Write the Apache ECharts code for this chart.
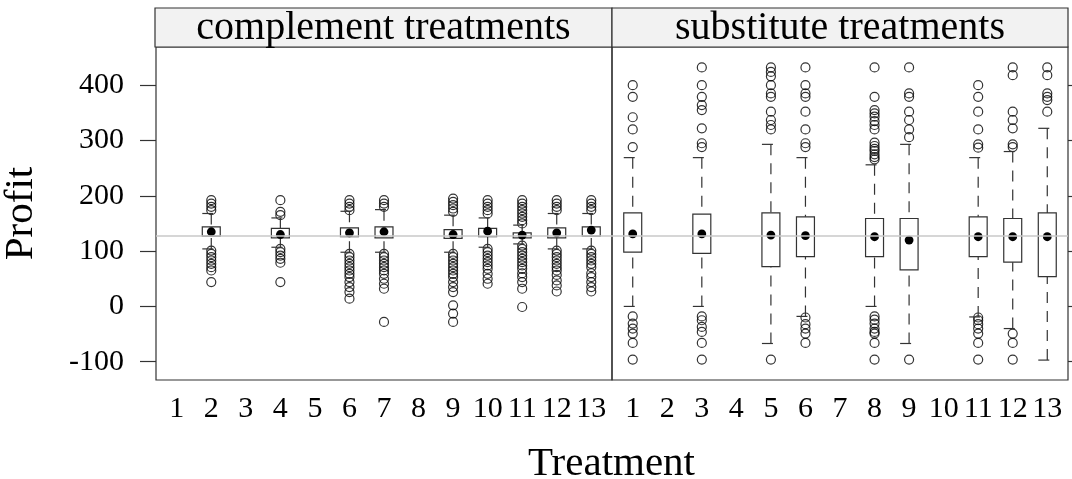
<!DOCTYPE html>
<html>
<head>
<meta charset="utf-8">
<script src="https://cdn.jsdelivr.net/npm/echarts@6/dist/echarts.min.js"></script>
<style>
html, body { margin: 0; padding: 0; background: #fff; }
#chart-container { width: 1072px; height: 479px; }
</style>
</head>
<body>
<div id="chart-container"></div>
<script>
var treatments = ['1', '2', '3', '4', '5', '6', '7', '8', '9', '10', '11', '12', '13'];
var panels = ['complement treatments', 'substitute treatments'];
var yTicks = [-100, 0, 100, 200, 300, 400];
var refLine = 127;

// [treatment, lower whisker, q1, median, q3, upper whisker]
var complementBoxes = [
  [2, 104, 127, 135, 144, 168],
  [4, 107, 124, 130, 141, 160],
  [6, 98, 126, 133, 142, 172],
  [7, 98, 124, 135, 144, 175],
  [9, 98, 123, 130, 139, 165],
  [10, 107, 126, 136, 141, 160],
  [11, 113, 124, 129, 133, 147],
  [12, 104, 124, 133, 142, 168],
  [13, 104, 127, 138, 144, 168]
];
var complementOutliers = [
  [2, [192, 186, 180, 174, 101, 95, 89, 83, 77, 71, 65, 44]],
  [4, [192, 171, 165, 104, 98, 92, 86, 79, 44]],
  [6, [192, 186, 180, 174, 95, 89, 83, 77, 71, 65, 59, 53, 44, 35, 26, 14]],
  [7, [192, 186, 180, 95, 89, 83, 77, 71, 65, 59, 50, 41, 32, -28]],
  [9, [195, 189, 183, 177, 171, 95, 89, 83, 77, 71, 65, 59, 53, 44, 35, 26, 2, -13, -28]],
  [10, [192, 186, 180, 174, 168, 104, 98, 92, 86, 80, 74, 68, 59, 50, 41]],
  [11, [192, 186, 180, 174, 168, 162, 156, 150, 110, 104, 98, 92, 86, 80, 74, 68, 60, 53, 44, 32, -1]],
  [12, [192, 186, 180, 174, 101, 95, 89, 83, 77, 71, 65, 57, 47, 38, 27]],
  [13, [192, 186, 180, 174, 101, 95, 89, 83, 77, 71, 60, 53, 44, 35, 27]]
];

var substituteBoxes = [
  [1, 0, 98, 131, 169, 269],
  [3, 0, 96, 131, 167, 269],
  [5, -67, 72, 129, 169, 293],
  [6, -18, 90, 128, 162, 269],
  [8, 0, 90, 126, 159, 256],
  [9, -67, 66, 120, 159, 293],
  [11, -19, 90, 126, 162, 269],
  [12, -40, 80, 126, 159, 280],
  [13, -97, 54, 126, 169, 322]
];
var substituteOutliers = [
  [1, [400, 379, 342, 320, 288, -18, -31, -40, -49, -66, -96]],
  [3, [432, 400, 379, 364, 355, 322, 295, 288, -18, -25, -37, -46, -66, -96]],
  [5, [432, 424, 416, 400, 385, 379, 352, 337, 328, 320, -96]],
  [6, [432, 400, 385, 379, 352, 320, 295, 288, -20, -32, -40, -49, -66]],
  [8, [432, 379, 355, 349, 343, 335, 328, 320, 296, 290, 285, 281, 275, 270, 266, -18, -24, -31, -40, -46, -49, -66, -96]],
  [9, [432, 385, 379, 352, 337, 320, 306, -96]],
  [11, [400, 379, 352, 320, 293, 287, -20, -25, -32, -40, -49, -66, -96]],
  [12, [432, 418, 352, 337, 322, 293, 288, -49, -66, -96]],
  [13, [432, 418, 385, 379, 373, 352]]
];

var serif = '"Liberation Serif", "DejaVu Serif", serif';

function flatten(list) {
  var out = [];
  list.forEach(function (d) {
    d[1].forEach(function (v) { out.push([d[0], v]); });
  });
  return out;
}

function dashed() {
  return { stroke: '#333', lineWidth: 1.2, lineDash: [11, 8], fill: null };
}

function renderBox(params, api) {
  var x = api.value(0);
  var lo = api.coord([x, api.value(1)]);
  var q1 = api.coord([x, api.value(2)]);
  var med = api.coord([x, api.value(3)]);
  var q3 = api.coord([x, api.value(4)]);
  var hi = api.coord([x, api.value(5)]);
  var half = api.size([0.52, 0])[0] / 2;
  var cx = med[0];
  return {
    type: 'group',
    children: [
      { type: 'line', shape: { x1: cx, y1: hi[1], x2: cx, y2: q3[1] }, style: dashed() },
      { type: 'line', shape: { x1: cx - half, y1: hi[1], x2: cx + half, y2: hi[1] }, style: dashed() },
      { type: 'line', shape: { x1: cx, y1: lo[1], x2: cx, y2: q1[1] }, style: dashed() },
      { type: 'line', shape: { x1: cx - half, y1: lo[1], x2: cx + half, y2: lo[1] }, style: dashed() },
      { type: 'rect', shape: { x: cx - half, y: q3[1], width: half * 2, height: q1[1] - q3[1] },
        style: { fill: 'rgba(0,0,0,0)', stroke: '#333', lineWidth: 1.2 } },
      { type: 'circle', shape: { cx: cx, cy: med[1], r: 4.4 }, style: { fill: '#000' } }
    ]
  };
}

var dom = document.getElementById('chart-container');
var myChart = echarts.init(dom, null, { renderer: 'canvas' });

var grids = [
  { left: 155, top: 47, width: 457, height: 333 },
  { left: 612, top: 47, width: 456, height: 333 }
];

var option = {
  animation: false,
  grid: grids.map(function (g) {
    return Object.assign({ show: true, borderColor: '#333', borderWidth: 1.2, backgroundColor: 'rgba(0,0,0,0)' }, g);
  }),
  xAxis: [0, 1].map(function (i) {
    return {
      type: 'value', gridIndex: i, min: 0.4, max: 13.6,
      axisLine: { show: false },
      axisTick: { show: false },
      splitLine: { show: false },
      axisLabel: {
        customValues: [1, 2, 3, 4, 5, 6, 7, 8, 9, 10, 11, 12, 13],
        formatter: function (v) { return treatments[Math.round(v) - 1]; },
        color: '#000', fontSize: 30, fontFamily: serif, margin: 14
      }
    };
  }),
  yAxis: [
    {
      type: 'value', gridIndex: 0, min: -133, max: 469,
      name: 'Profit', nameLocation: 'middle', nameRotate: 90, nameGap: 114,
      nameTextStyle: { color: '#000', fontSize: 41, fontFamily: serif },
      axisLine: { show: false },
      splitLine: { show: false },
      axisTick: { show: true, customValues: yTicks, length: 16, lineStyle: { color: '#333', width: 1.2 } },
      axisLabel: { customValues: yTicks, color: '#000', fontSize: 30, fontFamily: serif, margin: 32 }
    },
    {
      type: 'value', gridIndex: 1, min: -133, max: 469, position: 'right',
      axisLine: { show: false },
      splitLine: { show: false },
      axisTick: { show: true, customValues: yTicks, length: 16, lineStyle: { color: '#333', width: 1.2 } },
      axisLabel: { show: false }
    }
  ],
  graphic: [
    { type: 'rect', shape: { x: 155, y: 8, width: 457, height: 39 }, style: { fill: '#f2f2f2', stroke: '#333', lineWidth: 1.2 } },
    { type: 'rect', shape: { x: 612, y: 8, width: 456, height: 39 }, style: { fill: '#f2f2f2', stroke: '#333', lineWidth: 1.2 } },
    { type: 'text', style: { text: panels[0], x: 383.5, y: 28, align: 'center', verticalAlign: 'middle', fontSize: 40, fontFamily: serif, fill: '#000' } },
    { type: 'text', style: { text: panels[1], x: 840, y: 28, align: 'center', verticalAlign: 'middle', fontSize: 40, fontFamily: serif, fill: '#000' } },
    { type: 'text', style: { text: 'Treatment', x: 611.5, y: 464, align: 'center', verticalAlign: 'middle', fontSize: 41, fontFamily: serif, fill: '#000' } }
  ],
  series: [
    {
      type: 'scatter', xAxisIndex: 0, yAxisIndex: 0, z: 2,
      data: flatten(complementOutliers),
      symbol: 'circle', symbolSize: 9,
      itemStyle: { color: 'rgba(0,0,0,0)', borderColor: '#000', borderWidth: 1.2 },
      markLine: { silent: true, symbol: 'none', label: { show: false },
        lineStyle: { color: '#c8c8c8', width: 1.5, type: 'solid' }, data: [{ yAxis: refLine }] }
    },
    {
      type: 'scatter', xAxisIndex: 1, yAxisIndex: 1, z: 2,
      data: flatten(substituteOutliers),
      symbol: 'circle', symbolSize: 9,
      itemStyle: { color: 'rgba(0,0,0,0)', borderColor: '#000', borderWidth: 1.2 },
      markLine: { silent: true, symbol: 'none', label: { show: false },
        lineStyle: { color: '#c8c8c8', width: 1.5, type: 'solid' }, data: [{ yAxis: refLine }] }
    },
    {
      type: 'custom', xAxisIndex: 0, yAxisIndex: 0, z: 4,
      renderItem: renderBox,
      encode: { x: 0, y: [1, 2, 3, 4, 5] },
      data: complementBoxes
    },
    {
      type: 'custom', xAxisIndex: 1, yAxisIndex: 1, z: 4,
      renderItem: renderBox,
      encode: { x: 0, y: [1, 2, 3, 4, 5] },
      data: substituteBoxes
    }
  ]
};

if (option && typeof option === 'object') {
  myChart.setOption(option);
}

window.addEventListener('resize', myChart.resize);
</script>
</body>
</html>
